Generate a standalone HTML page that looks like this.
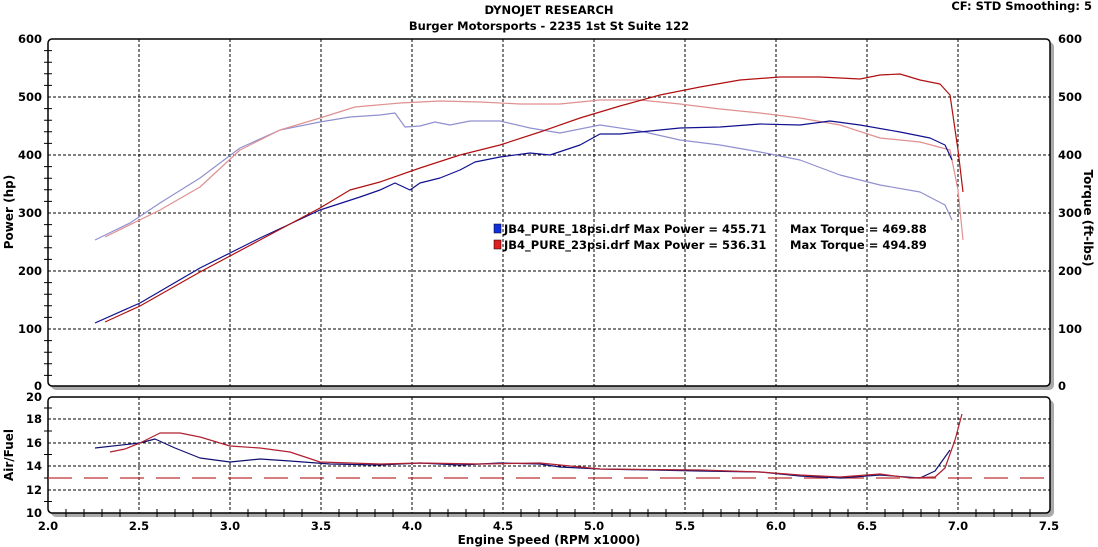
<!DOCTYPE html>
<html><head><style>
body{margin:0;background:#fff;}
svg{display:block;font-family:Verdana,"DejaVu Sans",sans-serif;font-weight:bold;}
</style></head><body>
<svg width="1098" height="547" viewBox="0 0 1098 547">
<text x="549" y="14" font-size="11.5" text-anchor="middle">DYNOJET RESEARCH</text>
<text x="549" y="30" font-size="11.5" text-anchor="middle">Burger Motorsports - 2235 1st St Suite 122</text>
<text x="1092" y="10" font-size="11.5" text-anchor="end">CF: STD  Smoothing: 5</text>
<rect x="51" y="42" width="1003" height="348" rx="5" fill="#aaa"/>
<rect x="51" y="400" width="1003" height="117" rx="5" fill="#aaa"/>
<rect x="48" y="39" width="1002" height="347" rx="4" fill="#fff" stroke="#000" stroke-width="1.5"/>
<rect x="48" y="397" width="1002" height="116" rx="4" fill="#fff" stroke="#000" stroke-width="1.5"/>
<g stroke="#000" stroke-width="1" stroke-dasharray="3,2">
<path d="M139 39V386M230 39V386M321 39V386M412 39V386M503 39V386M594 39V386M685 39V386M776 39V386M867 39V386M958 39V386"/>
<path d="M48 97H1050M48 155H1050M48 213H1050M48 271H1050M48 329H1050"/>
<path d="M139 397V513M230 397V513M321 397V513M412 397V513M503 397V513M594 397V513M685 397V513M776 397V513M867 397V513M958 397V513"/>
<path d="M48 419H1050M48 443H1050M48 466H1050M48 490H1050"/>
</g>
<g stroke="#000" stroke-width="1">
<path d="M44 50.6H52M44 62.2H52M44 73.8H52M44 85.4H52M44 108.6H52M44 120.2H52M44 131.8H52M44 143.4H52M44 166.6H52M44 178.2H52M44 189.8H52M44 201.4H52M44 224.6H52M44 236.2H52M44 247.8H52M44 259.4H52M44 282.6H52M44 294.2H52M44 305.8H52M44 317.4H52M44 340.6H52M44 352.2H52M44 363.8H52M44 375.4H52"/>
<path d="M44 408H52M44 431H52M44 454.5H52M44 478H52M44 501.5H52"/>
<path d="M66 509V517M84 509V517M102 509V517M120 509V517M157 509V517M175 509V517M193 509V517M211 509V517M248 509V517M266 509V517M284 509V517M302 509V517M339 509V517M357 509V517M375 509V517M393 509V517M430 509V517M448 509V517M466 509V517M484 509V517M521 509V517M539 509V517M557 509V517M575 509V517M612 509V517M630 509V517M648 509V517M666 509V517M703 509V517M721 509V517M739 509V517M757 509V517M794 509V517M812 509V517M830 509V517M848 509V517M885 509V517M903 509V517M921 509V517M939 509V517M976 509V517M994 509V517M1012 509V517M1030 509V517"/>
</g>
<path d="M48 478H1050" stroke="#c03030" stroke-width="1.2" stroke-dasharray="24,12"/>
<g font-size="11.5" text-anchor="end">
<text x="42" y="43">600</text><text x="42" y="101">500</text><text x="42" y="159">400</text><text x="42" y="217">300</text><text x="42" y="275">200</text><text x="42" y="333">100</text><text x="42" y="390">0</text>
<text x="42" y="401">20</text><text x="42" y="423">18</text><text x="42" y="447">16</text><text x="42" y="470">14</text><text x="42" y="494">12</text><text x="42" y="517">10</text>
</g>
<g font-size="11.5" text-anchor="start">
<text x="1058" y="43">600</text><text x="1058" y="101">500</text><text x="1058" y="159">400</text><text x="1058" y="217">300</text><text x="1058" y="275">200</text><text x="1058" y="333">100</text><text x="1058" y="390">0</text>
</g>
<g font-size="11.5" text-anchor="middle">
<text x="48" y="530">2.0</text><text x="139" y="530">2.5</text><text x="230" y="530">3.0</text><text x="321" y="530">3.5</text><text x="412" y="530">4.0</text><text x="503" y="530">4.5</text><text x="594" y="530">5.0</text><text x="685" y="530">5.5</text><text x="776" y="530">6.0</text><text x="867" y="530">6.5</text><text x="958" y="530">7.0</text><text x="1049" y="530">7.5</text>
<text x="549" y="544" font-size="12">Engine Speed (RPM x1000)</text>
</g>
<text transform="translate(13,212) rotate(-90)" font-size="12" text-anchor="middle">Power (hp)</text>
<text transform="translate(13,455) rotate(-90)" font-size="12" text-anchor="middle">Air/Fuel</text>
<text transform="translate(1084,218) rotate(90)" font-size="12" text-anchor="middle">Torque (ft-lbs)</text>
<g fill="none" stroke-width="1.2" stroke-linejoin="round">
<polyline stroke="#9090d0" points="95,240 130,223 160,203 200,178 240,148 280,130 320,122 350,117 380,115 395,113 405,127 420,126 435,122 450,125 470,121 500,121 530,128 560,133 600,125 640,131 680,140 720,145 760,152 800,160 840,175 880,185 920,192 945,205 952,220"/>
<polyline stroke="#e09090" points="105,237 160,210 200,187 240,150 280,130 320,118 355,107 400,103 440,101 480,102 520,104 560,104 600,100 640,100 680,104 720,109 760,113 800,118 840,125 880,138 920,142 950,150 958,190 963,240"/>
<polyline stroke="#101090" points="95,323 140,303 200,268 260,238 320,210 360,197 380,190 395,183 410,190 420,183 440,178 460,170 475,162 500,157 530,153 550,155 565,150 580,145 600,134 620,134 640,132 680,128 720,127 760,124 800,125 830,121 860,125 900,132 930,138 945,145 952,160"/>
<polyline stroke="#b01010" points="105,322 140,306 200,272 260,240 320,208 350,190 380,182 420,168 460,155 500,145 540,132 580,118 620,106 660,95 700,87 740,80 780,77 820,77 840,78 860,79 880,75 900,74 920,80 940,84 950,95 958,150 963,192"/>
<polyline stroke="#101070" points="95,448 140,443 155,439 175,448 200,458 230,462 260,459 290,461 330,464 380,465 420,463 460,465 500,463 540,464 560,467 600,469 700,471 760,472 800,476 840,478 880,475 920,478 935,471 950,450"/>
<polyline stroke="#b02030" points="110,452 125,449 140,443 160,433 180,433 200,437 230,446 260,448 290,452 320,462 380,464 420,463 480,464 540,463 560,465 600,469 700,470 760,472 800,475 840,477 880,474 910,478 935,477 945,468 955,440 962,414"/>
</g>
<rect x="494" y="224" width="7" height="9" fill="#1030e0" stroke="#000" stroke-width="0.5"/>
<rect x="494" y="240" width="7" height="9" fill="#e02020" stroke="#000" stroke-width="0.5"/>
<g font-size="11.5">
<text x="504" y="233">JB4_PURE_18psi.drf Max Power = 455.71</text><text x="790" y="233">Max Torque = 469.88</text>
<text x="504" y="249">JB4_PURE_23psi.drf Max Power = 536.31</text><text x="790" y="249">Max Torque = 494.89</text>
</g>
</svg>
</body></html>
